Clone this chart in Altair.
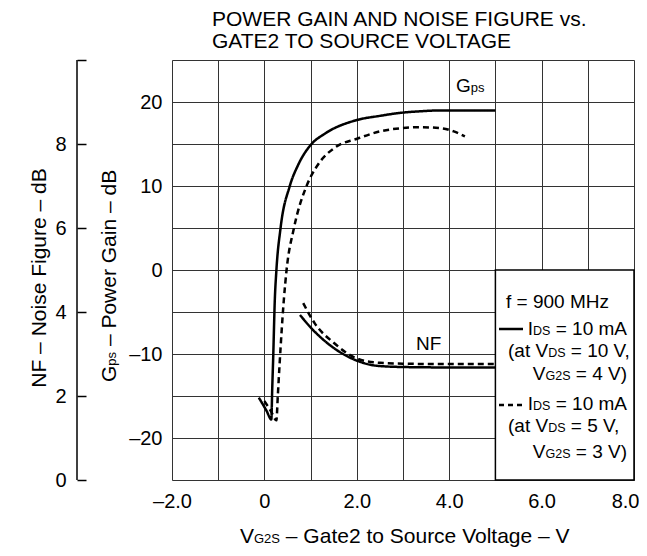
import altair as alt
import pandas as pd

# ---------------- data ----------------
conds = ["VDS=10V", "VDS=5V"]

gps_solid_x = [-0.12, 0.05, 0.15, 0.17, 0.19, 0.225, 0.26, 0.35, 0.55, 0.73, 1.02, 1.3, 2.0, 2.5, 2.93, 3.4, 3.8, 4.4, 5.0]
gps_solid_y = [-15.2, -16.8, -17.8, -14.0, -10.5, -3.6, 0.0, 5.0, 10.0, 12.5, 15.0, 16.2, 17.85, 18.35, 18.7, 18.9, 19.0, 19.0, 18.98]

gps_dash_x = [0.0, 0.15, 0.26, 0.29, 0.33, 0.42, 0.48, 0.64, 0.92, 1.13, 1.56, 1.99, 2.5, 3.0, 3.36, 3.8, 4.1, 4.34]
gps_dash_y = [-15.6, -16.9, -17.9, -15.0, -11.1, -3.6, 0.0, 5.0, 10.1, 12.3, 14.7, 15.6, 16.5, 16.9, 17.0, 16.9, 16.5, 15.9]

nf_solid_x = [0.77, 1.02, 1.42, 2.03, 2.43, 3.0, 4.0, 5.0]
nf_solid_y = [3.93, 3.61, 3.21, 2.83, 2.72, 2.69, 2.68, 2.68]

nf_dash_x = [0.84, 1.09, 1.52, 2.03, 2.5, 3.0, 4.0, 5.0]
nf_dash_y = [4.21, 3.73, 3.25, 2.88, 2.79, 2.77, 2.76, 2.76]

x_ticks = list(range(-2, 9))
gps_ticks = list(range(-25, 26, 5))
nf_ticks = [0, 2, 4, 6, 8, 10]

title_lines = ["POWER GAIN AND NOISE FIGURE vs.", "GATE2 TO SOURCE VOLTAGE"]
x_title = [("V", "M"), ("G2S", "S"), (" \u2013 Gate2 to Source Voltage \u2013 V", "M")]
gps_title = [("G", "M"), ("ps", "S"), (" \u2013 Power Gain \u2013 dB", "M")]
nf_title = [("NF \u2013 Noise Figure \u2013 dB", "M")]
gps_label = [("G", "M"), ("ps", "S")]
nf_label = [("NF", "M")]
legend_rows = [
    [("f = 900 MHz", "M")],
    [("I", "M"), ("DS", "S"), (" = 10 mA", "M")],
    [("(at V", "M"), ("DS", "S"), (" = 10 V,", "M")],
    [("V", "M"), ("G2S", "S"), (" = 4 V)", "M")],
    [("I", "M"), ("DS", "S"), (" = 10 mA", "M")],
    [("(at V", "M"), ("DS", "S"), (" = 5 V,", "M")],
    [("V", "M"), ("G2S", "S"), (" = 3 V)", "M")],
]

# ---------------- layout (page pixels) ----------------
OX, OY = 172, 60          # plot origin on the page
W, H = 462, 420
FONT = "Liberation Sans"

AW = {' ': 278, '(': 333, ')': 333, ',': 278, '-': 333, '.': 278, '=': 584,
      'A': 667, 'B': 667, 'C': 722, 'D': 722, 'E': 667, 'F': 611, 'G': 778, 'H': 722,
      'I': 278, 'L': 556, 'M': 833, 'N': 722, 'O': 778, 'P': 667, 'R': 722, 'S': 667,
      'T': 611, 'U': 722, 'V': 667, 'W': 944, 'a': 556, 'c': 500, 'd': 556, 'e': 556,
      'f': 278, 'g': 556, 'i': 222, 'l': 222, 'm': 833, 'n': 556, 'o': 556, 'p': 556,
      'r': 333, 's': 500, 't': 278, 'u': 556, 'v': 500, 'w': 722, 'z': 500, '\u2013': 556}


def tw(s, size):
    return sum(AW.get(c, 556) for c in s) / 1000.0 * size


hrows, vrows = [], []


def place_h(pieces, x, y, align, M, S):
    sizes = {"M": M, "S": S}
    total = sum(tw(t, sizes[k]) for t, k in pieces)
    cur = x if align == "left" else x - total
    for t, k in pieces:
        sz = sizes[k]
        lead = len(t) - len(t.lstrip(" "))
        hrows.append({"t": t.strip(" "), "px": cur + tw(" " * lead, sz) - OX, "py": y - OY, "size": sz})
        cur += tw(t, sz)


def place_v(pieces, x, y, M, S, center=False):
    sizes = {"M": M, "S": S}
    total = sum(tw(t, sizes[k]) for t, k in pieces)
    cur = y + total / 2 if center else y
    for t, k in pieces:
        sz = sizes[k]
        lead = len(t) - len(t.lstrip(" "))
        vrows.append({"t": t.strip(" "), "px": x - OX, "py": cur - tw(" " * lead, sz) - OY, "size": sz})
        cur -= tw(t, sz)


place_h([(title_lines[0], "M")], 212, 26, "left", 21, 13)
place_h([(title_lines[1], "M")], 212, 48, "left", 21, 13)
place_h(x_title, 240, 543, "left", 21, 13)
place_h(gps_label, 456, 92, "left", 19, 13)
place_h(nf_label, 416, 350, "left", 19, 13)
leg_pos = [(506, 308, "left"), (627, 335, "right"), (508, 357, "left"), (627, 380, "right"),
           (627, 410, "right"), (508, 432, "left"), (627, 458, "right")]
for pieces, (lx, ly, la) in zip(legend_rows, leg_pos):
    place_h(pieces, lx, ly, la, 19, 12.5)

place_v(gps_title, 116, 382, 21, 13)
place_v(nf_title, 46, 278, 21, 13, center=True)

# ---------------- chart ----------------
xs = alt.Scale(domain=[-2, 8], nice=False, zero=False)
ygs = alt.Scale(domain=[-25, 25], nice=False, zero=False)
yns = alt.Scale(domain=[0, 10], nice=False, zero=False)
dash_scale = alt.Scale(domain=conds, range=[[1, 0], [6, 4]])

gps_df = pd.DataFrame({
    "vg2s": gps_solid_x + gps_dash_x,
    "gps": gps_solid_y + gps_dash_y,
    "cond": [conds[0]] * len(gps_solid_x) + [conds[1]] * len(gps_dash_x),
})
nf_df = pd.DataFrame({
    "vg2s": nf_solid_x + nf_dash_x,
    "nf": nf_solid_y + nf_dash_y,
    "cond": [conds[0]] * len(nf_solid_x) + [conds[1]] * len(nf_dash_x),
})

x_label_expr = ("datum.value % 2 == 0 ? (datum.value == 0 ? '0' : "
                "replace(format(datum.value, '.1f'), '\u2212', '\u2013')) : ''")
y_label_expr = ("(datum.value % 10 == 0 && abs(datum.value) < 25) ? "
                "replace(format(datum.value, 'd'), '\u2212', '\u2013') : ''")

gps_layer = alt.Chart(gps_df).mark_line(color="black", strokeWidth=2.5, interpolate="monotone").encode(
    x=alt.X("vg2s:Q", scale=xs, axis=alt.Axis(
        values=x_ticks, labelExpr=x_label_expr, grid=True, gridColor="#333", gridWidth=1,
        ticks=False, tickSize=0, domain=False, labelPadding=11, labelFontSize=20,
        labelAlign=alt.ExprRef(expr="datum.value >= 8 ? 'right' : 'center'"),
        labelOffset=alt.ExprRef(expr="datum.value >= 8 ? 5 : 0"),
        labelFont=FONT, labelColor="black", labelFlush=False, labelOverlap=False, title=None)),
    y=alt.Y("gps:Q", scale=ygs, axis=alt.Axis(
        values=gps_ticks, labelExpr=y_label_expr, grid=True, gridColor="#333", gridWidth=1,
        ticks=False, tickSize=0, domain=False, labelPadding=10, labelFontSize=20,
        labelFont=FONT, labelColor="black", labelFlush=False, labelOverlap=False, title=None)),
    strokeDash=alt.StrokeDash("cond:N", scale=dash_scale, legend=None),
    detail="cond:N",
)

legend_box = alt.Chart(pd.DataFrame({"x": [5], "x2": [8], "y": [-25], "y2": [0]})).mark_rect(
    fill="white", stroke="black", strokeWidth=1.5).encode(
    x=alt.X("x:Q", scale=xs, axis=None), x2="x2:Q",
    y=alt.Y("y:Q", scale=ygs, axis=None), y2="y2:Q",
)

nf_layer = alt.Chart(nf_df).mark_line(color="black", strokeWidth=2.5, interpolate="monotone").encode(
    x=alt.X("vg2s:Q", scale=xs, axis=None),
    y=alt.Y("nf:Q", scale=yns, axis=alt.Axis(
        orient="left", offset=86, values=nf_ticks,
        labelExpr="datum.value < 10 ? format(datum.value, 'd') : ''",
        ticks=True, tickSize=9, tickColor="black", tickWidth=1.5, domain=False, grid=False,
        labelPadding=11, labelFontSize=20, labelFont=FONT, labelColor="black",
        labelFlush=False, labelOverlap=False, title=None)),
    strokeDash=alt.StrokeDash("cond:N", scale=dash_scale, legend=None),
    detail="cond:N",
)

nf_axis_line = alt.Chart(pd.DataFrame({"a": [0]})).mark_rule(color="black", strokeWidth=1.5).encode(
    x=alt.value(-95), y=alt.value(0), y2=alt.value(H))

leg_solid = alt.Chart(pd.DataFrame({"a": [0]})).mark_rule(color="black", strokeWidth=2.5).encode(
    x=alt.value(499 - OX), x2=alt.value(523 - OX), y=alt.value(329 - OY))
leg_dash = alt.Chart(pd.DataFrame({"a": [0]})).mark_rule(color="black", strokeWidth=2.5, strokeDash=[5, 4]).encode(
    x=alt.value(499 - OX), x2=alt.value(523 - OX), y=alt.value(405 - OY))

texts_h = alt.Chart(pd.DataFrame(hrows)).mark_text(
    align="left", baseline="alphabetic", color="black", font=FONT).encode(
    x=alt.X("px:Q", scale=None, axis=None),
    y=alt.Y("py:Q", scale=None, axis=None),
    size=alt.Size("size:Q", scale=None, legend=None),
    text="t:N",
)
texts_v = alt.Chart(pd.DataFrame(vrows)).mark_text(
    align="left", baseline="alphabetic", color="black", font=FONT, angle=270).encode(
    x=alt.X("px:Q", scale=None, axis=None),
    y=alt.Y("py:Q", scale=None, axis=None),
    size=alt.Size("size:Q", scale=None, legend=None),
    text="t:N",
)

chart = alt.layer(
    gps_layer, legend_box, nf_layer, nf_axis_line, leg_solid, leg_dash, texts_h, texts_v
).resolve_scale(
    x="independent", y="independent", strokeDash="independent", size="independent"
).properties(
    width=W, height=H,
    padding={"left": OX - 8, "top": OY - 8, "right": 5, "bottom": 68},
    autosize=alt.AutoSizeParams(type="none"),
).configure_view(
    stroke="black", strokeWidth=2
).configure(font=FONT, background="white")

chart.save("out.html", embed_options={"renderer": "svg", "actions": False})
